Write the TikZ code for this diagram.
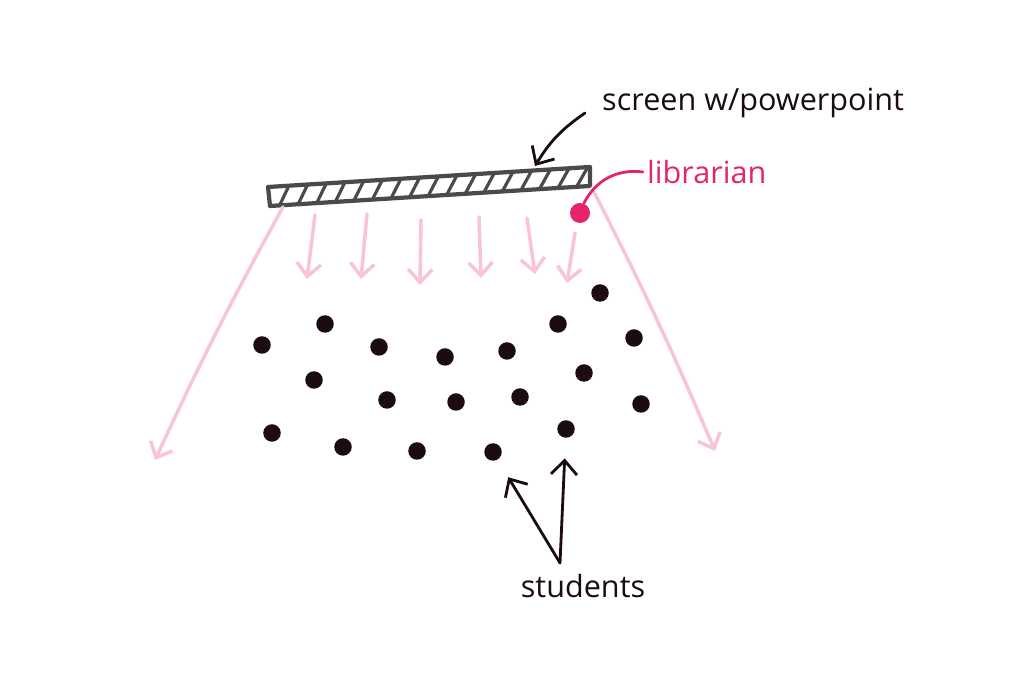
\documentclass[tikz,border=0pt]{standalone}
\usepackage{fontspec}
\setmainfont{Open Sans}
\usetikzlibrary{arrows.meta,calc}
\definecolor{beam}{HTML}{F8C4D6}
\definecolor{libpink}{HTML}{E6246E}
\definecolor{screengray}{HTML}{4A4A4A}
\definecolor{ink}{HTML}{1C0C12}
\tikzset{
  beamarrow/.style={draw=beam,line width=1pt,line cap=round,
    -{Straight Barb[length=1.3mm,width=2.4mm]}},
  inkarrow/.style={draw=ink,line width=0.8pt,line cap=round,
    -{Straight Barb[length=1.4mm,width=2.6mm]}},
  student/.style={circle,fill=ink,inner sep=0pt,minimum size=1.75mm},
  handtext/.style={inner sep=1pt,font=\fontsize{8.7}{10}\selectfont}
}
\begin{document}
\begin{tikzpicture}[x=0.01cm,y=-0.01cm]
  \useasboundingbox (0,0) rectangle (1024,683);

  % screen
  \coordinate (scrTL) at (268,187);
  \coordinate (scrTR) at (590,167);
  \coordinate (scrBR) at (590,186);
  \coordinate (scrBL) at (270,206);
  \draw[screengray,line width=1.2pt,line join=round]
    (scrBL) -- (scrTL) -- (scrTR) -- (scrBR) -- cycle;
  \foreach \i in {0,...,16} {
    \pgfmathsetmacro\ta{0.03+\i*0.058}
    \pgfmathsetmacro\tb{\ta+0.035}
    \draw[screengray,line width=0.9pt,line cap=round]
      ($(scrBL)!\ta!(scrBR)$) -- ($(scrTL)!\tb!(scrTR)$);
  }

  % light from the screen
  \coordinate (beamL0) at (283,207);
  \coordinate (beamL1) at (155,460);
  \coordinate (beamR0) at (594,192);
  \coordinate (beamR1) at (715,451);
  \draw[beamarrow] (beamL0) to[bend right=2] (beamL1);
  \draw[beamarrow] (beamR0) to[bend left=2] (beamR1);
  \foreach \xa/\ya/\xb/\yb [count=\n] in
    {315/215/307/279, 367/214/361/279, 421/220/420/285,
     479/217/481/278, 527/218/535/274, 575/233/567/283} {
    \coordinate (ray\n a) at (\xa,\ya);
    \coordinate (ray\n b) at (\xb,\yb);
    \draw[beamarrow] (ray\n a) -- (ray\n b);
  }

  % students
  \foreach \x/\y [count=\n] in
    {600/293, 325/324, 558/324, 262/345, 634/338, 379/347,
     445/357, 507/351, 314/380, 584/373, 387/400, 456/402,
     520/397, 641/404, 272/433, 343/447, 417/451, 493/452, 566/429}
    \node[student] (s\n) at (\x,\y) {};

  % librarian
  \node[circle,fill=libpink,inner sep=0pt,minimum size=2mm] (lib) at (580,213) {};
  \node[handtext,text=libpink,anchor=west] (liblbl) at (643,172) {librarian};
  \draw[libpink,line width=0.8pt,line cap=round]
    (lib) to[bend left=35] (liblbl.west);

  % labels
  \node[handtext,text=ink,anchor=west] (scrlbl) at (598,103) {screen w/powerpoint};
  \coordinate (scrHit) at (535,166);
  \draw[inkarrow] ([xshift=-1.3mm,yshift=-1mm]scrlbl.west) to[bend right=12] (scrHit);

  \node[handtext,text=ink] (stulbl) at (583,586) {students};
  \coordinate (stuV) at (560,563);
  \draw[inkarrow,shorten >=2mm] (stuV) -- (s18);
  \draw[inkarrow,shorten >=2mm] (stuV) -- (s19);
\end{tikzpicture}
\end{document}
